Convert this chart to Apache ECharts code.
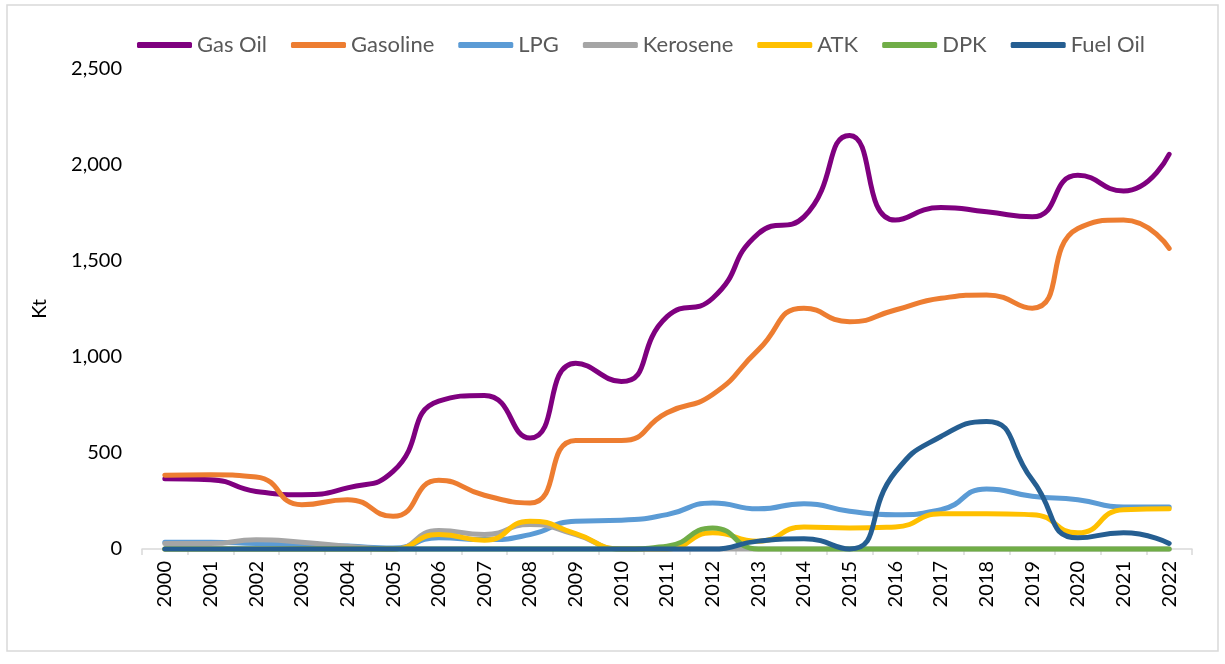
<!DOCTYPE html>
<html>
<head>
    <meta charset="utf-8">
    <title>Kt by product</title>
    <script src="https://cdn.jsdelivr.net/npm/echarts@6/dist/echarts.min.js"></script>
    <style>
        html, body { margin: 0; padding: 0; background: #fff; }
    </style>
</head>
<body>
    <div id="main" style="width: 1225px;height:664px;"></div>

<script type="text/javascript">
    // data (Kt)
    var years = ['2000', '2001', '2002', '2003', '2004', '2005', '2006', '2007', '2008', '2009', '2010',
        '2011', '2012', '2013', '2014', '2015', '2016', '2017', '2018', '2019', '2020', '2021', '2022'];

    var gasOil   = [366, 361, 300, 283, 318, 404, 770, 800, 578, 968, 872, 1210, 1306, 1643, 1730, 2154, 1713, 1779, 1756, 1730, 1946, 1865, 2056];
    var gasoline = [384, 387, 375, 231, 257, 170, 358, 280, 240, 565, 565, 710, 805, 1037, 1254, 1184, 1245, 1306, 1323, 1254, 1669, 1713, 1566];
    var lpg      = [35, 35, 28, 23, 15, 5, 58, 49, 75, 145, 150, 179, 240, 209, 236, 197, 179, 205, 313, 275, 257, 219, 219];
    var kerosene = [28, 28, 48, 35, 15, 0, 96, 75, 127, 75, 0, 0, 0, 0, 0, 0, 0, 0, 0, 0, 0, 0, 0];
    var atk      = [0, 0, 0, 0, 0, 0, 75, 46, 145, 80, 0, 0, 84, 41, 115, 110, 115, 183, 183, 179, 84, 205, 209];
    var dpk      = [0, 0, 0, 0, 0, 0, 0, 0, 0, 0, 0, 15, 110, 0, 0, 0, 0, 0, 0, 0, 0, 0, 0];
    var fuelOil  = [0, 0, 0, 0, 0, 0, 0, 0, 0, 0, 0, 0, 0, 41, 53, 0, 400, 586, 664, 361, 58, 84, 29];

    var yTicks = [0, 500, 1000, 1500, 2000, 2500];

    var font = 'Lato, "Noto Sans", sans-serif';

    var myChart = echarts.init(document.getElementById('main'));

    function line(name, data, color) {
        return {
            name: name,
            type: 'line',
            data: data,
            smooth: 0.55,
            symbol: 'none',
            clip: false,
            lineStyle: { width: 5, color: color, cap: 'round' },
            itemStyle: { color: color }
        };
    }

    var option = {
        backgroundColor: '#fff',
        animation: false,
        textStyle: { fontFamily: font },
        graphic: [{
            type: 'rect',
            shape: { x: 7, y: 5, width: 1211, height: 646 },
            style: { fill: 'none', stroke: '#d9d9d9', lineWidth: 1.5 },
            silent: true
        }],
        legend: {
            left: 132,
            top: 29,
            icon: 'roundRect',
            itemWidth: 55,
            itemHeight: 6,
            itemGap: 24,
            textStyle: { fontSize: 22, color: '#595959', fontFamily: font }
        },
        grid: {
            left: 142,
            right: 33,
            top: 69,
            bottom: 115
        },
        xAxis: {
            type: 'category',
            data: years,
            boundaryGap: true,
            axisLine: { lineStyle: { color: '#d9d9d9', width: 1.5 } },
            axisTick: { show: true, length: 6, interval: 0, lineStyle: { color: '#d9d9d9', width: 1.5 } },
            axisLabel: { rotate: 90, interval: 0, fontSize: 20, color: '#000', margin: 12, fontFamily: font }
        },
        yAxis: {
            type: 'value',
            min: yTicks[0],
            max: yTicks[yTicks.length - 1],
            interval: yTicks[1] - yTicks[0],
            name: 'Kt',
            nameLocation: 'middle',
            nameGap: 92,
            nameRotate: 90,
            nameTextStyle: { fontSize: 20, color: '#000', fontFamily: font },
            axisLine: { show: false },
            axisTick: { show: false },
            splitLine: { show: false },
            axisLabel: {
                fontSize: 20,
                color: '#000',
                margin: 20,
                fontFamily: font,
                formatter: function (v) { return v.toLocaleString('en-US'); }
            }
        },
        series: [
            line('Gas Oil', gasOil, '#7F007F'),
            line('Gasoline', gasoline, '#ED7D31'),
            line('LPG', lpg, '#5B9BD5'),
            line('Kerosene', kerosene, '#A5A5A5'),
            line('ATK', atk, '#FFC000'),
            line('DPK', dpk, '#70AD47'),
            line('Fuel Oil', fuelOil, '#255E91')
        ]
    };

    myChart.setOption(option);
</script>
</body>
</html>
